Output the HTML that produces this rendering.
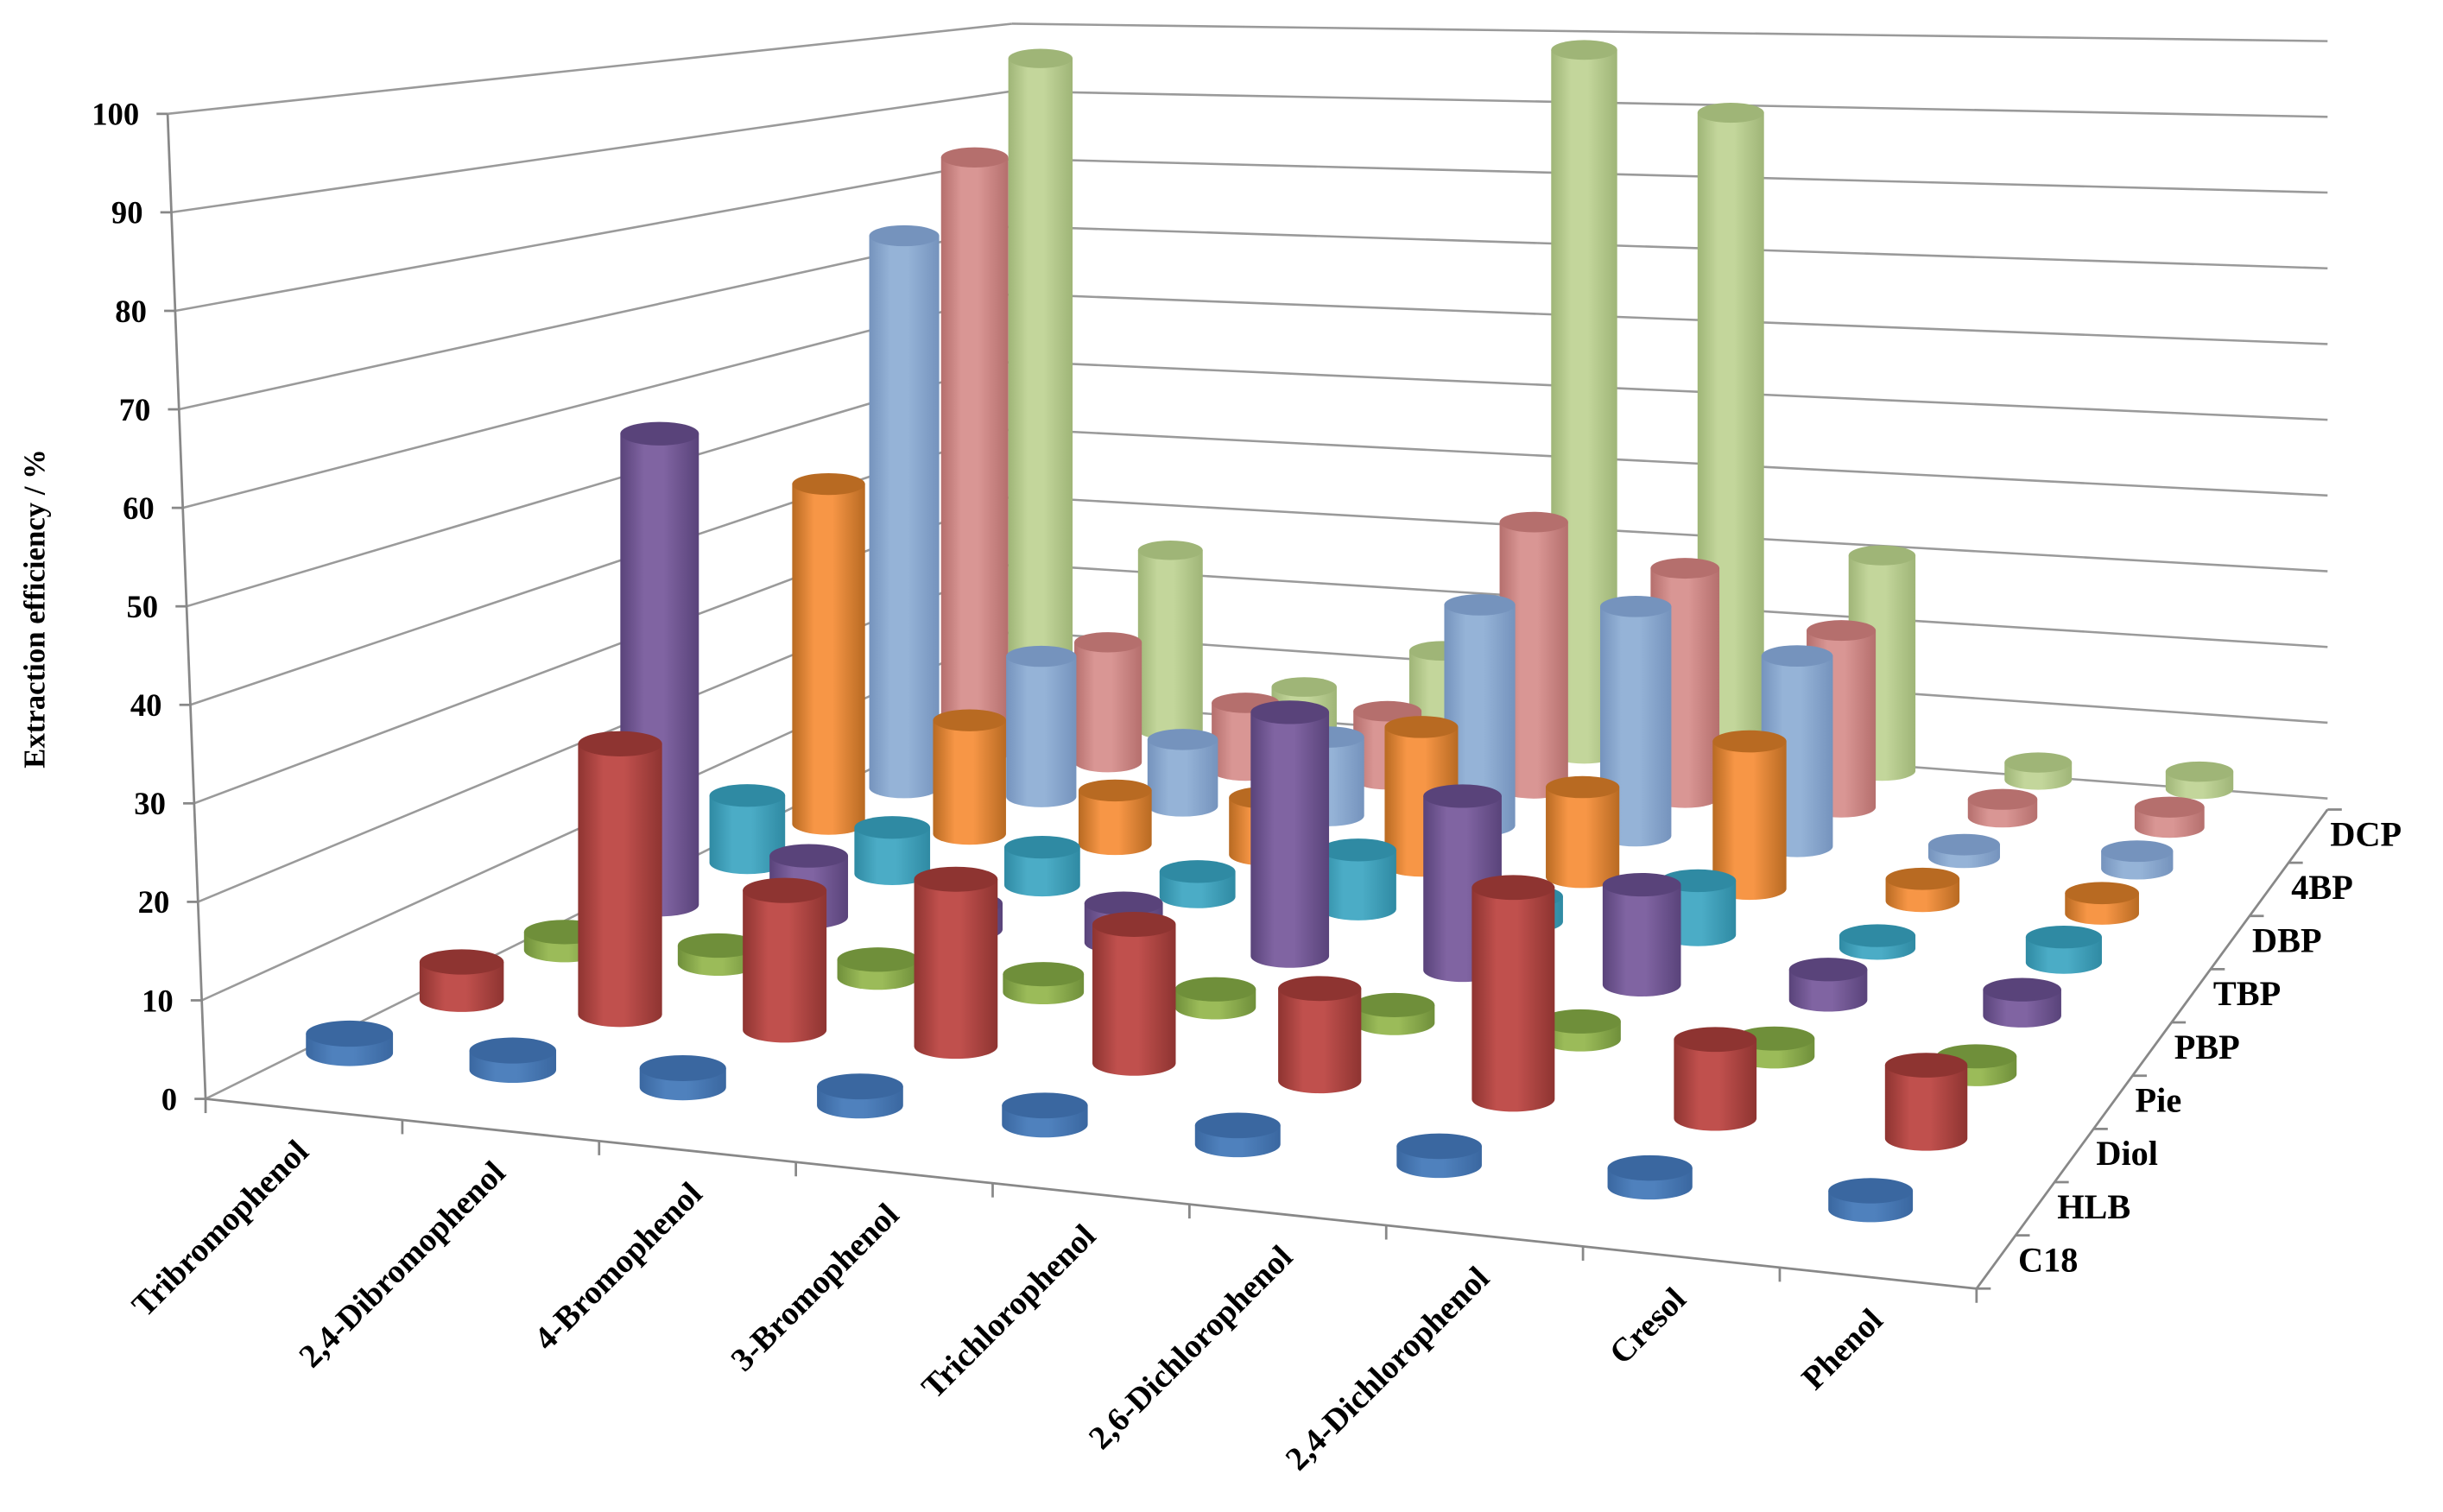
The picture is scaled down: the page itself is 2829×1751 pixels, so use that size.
<!DOCTYPE html>
<html><head><meta charset="utf-8"><style>
html,body{margin:0;padding:0;background:#fff;}
svg{display:block;}
text{font-family:"Liberation Serif",serif;font-weight:bold;fill:#000;}
</style></head><body>
<svg id="chart" xmlns="http://www.w3.org/2000/svg" width="2829" height="1751" viewBox="0 0 1545 956.3" preserveAspectRatio="none">
<defs id="defs"></defs>
<g id="walls"></g>
<g id="axes"></g>
<g id="bars"></g>
<g id="labels"></g>
<text transform="translate(28,385) rotate(-90)" text-anchor="middle" font-size="19">Extraction efficiency / %</text>
</svg>
<script>
const categories=["Tribromophenol","2,4-Dibromophenol","4-Bromophenol","3-Bromophenol","Trichlorophenol","2,6-Dichlorophenol","2,4-Dichlorophenol","Cresol","Phenol"];
const seriesNames=["C18","HLB","Diol","Pie","PBP","TBP","DBP","4BP","DCP"];
const c18Vals=[2,2,2,2,2,2,2,2,2];
const hlbVals=[4,29,15,18,15,10,23,8.6,8];
const diolVals=[2,2,2,2,2,2,2,2,2];
const pieVals=[54,7,3,4.5,28,20,11.5,3.5,3];
const pbpVals=[8,5.5,4.5,3,7,3,6.4,1.5,3];
const tbpVals=[42,14,6.6,7,17,11,18,2.7,2.5];
const dbpVals=[71,18,8.5,10,28,29,24,1.6,2.2];
const bp4Vals=[80,16,9,9,35,30,23,2.3,2.6];
const dcpVals=[93,25,7,13,96,88,29,2.3,2.3];
const yTicks=[0,10,20,30,40,50,60,70,80,90,100];
const allVals=[c18Vals,hlbVals,diolVals,pieVals,pbpVals,tbpVals,dbpVals,bp4Vals,dcpVals];
const colors=["#4f81bd","#c0504d","#9bbb59","#8064a2","#4bacc6","#f79646","#95b3d7","#d99694","#c3d69b"];
const tops=["#3a67a0","#8e3431","#6f8f3a","#59437a","#2f8aa3","#b86a22","#7593bd","#b56f6d","#9fb577"];

const NS="http://www.w3.org/2000/svg";
function mk(tag,attrs,parent){const e=document.createElementNS(NS,tag);for(const k in attrs)e.setAttribute(k,attrs[k]);parent.appendChild(e);return e;}

function solveH(src,dst){
  const A=[],B=[];
  for(let i=0;i<4;i++){const[u,v]=src[i],[x,y]=dst[i];
    A.push([u,v,1,0,0,0,-u*x,-v*x]);B.push(x);
    A.push([0,0,0,u,v,1,-u*y,-v*y]);B.push(y);}
  const n=8;
  for(let c=0;c<n;c++){let p=c;for(let r=c+1;r<n;r++)if(Math.abs(A[r][c])>Math.abs(A[p][c]))p=r;
    [A[c],A[p]]=[A[p],A[c]];[B[c],B[p]]=[B[p],B[c]];
    for(let r=0;r<n;r++){if(r===c)continue;const f=A[r][c]/A[c][c];for(let k=c;k<n;k++)A[r][k]-=f*A[c][k];B[r]-=f*B[c];}}
  return B.map((b,i)=>b/A[i][i]);
}
const Hm=solveH([[0.5,0.5],[8.5,0.5],[8.5,8.5],[0.5,8.5]],[[221,666],[1183,765],[1391,499],[658,457]]);
function proj(u,v){const w=Hm[6]*u+Hm[7]*v+1;return[(Hm[0]*u+Hm[1]*v+Hm[2])/w,(Hm[3]*u+Hm[4]*v+Hm[5])/w];}
function hScale(u,v){const a=u/9,b=v/9;return (1-a)*(1-b)*6.23+a*(1-b)*6.0+(1-a)*b*4.4+a*b*4.7;}

const defs=document.getElementById('defs');
colors.forEach((c,i)=>{
  const g=mk('linearGradient',{id:'g'+i,x1:0,y1:0,x2:1,y2:0},defs);
  mk('stop',{offset:0,'stop-color':tops[i]},g);
  mk('stop',{offset:0.3,'stop-color':c},g);
  mk('stop',{offset:0.55,'stop-color':c},g);
  mk('stop',{offset:1,'stop-color':tops[i]},g);
});

const walls=document.getElementById('walls');
const FL=[130,695],YT=[106,72];
function yAxisPt(v){return[FL[0]+(YT[0]-FL[0])*v/100,FL[1]+(YT[1]-FL[1])*v/100];}
function blY(v){return 442-(442-15)*v/100;}
function brY(v){return 505-(505-26)*v/100;}
yTicks.forEach(t=>{
  const p=yAxisPt(t);
  const l1=mk('line',{x1:p[0],y1:p[1],x2:640,y2:blY(t),stroke:"#9a9a9a","stroke-width":1.4},walls);
  
  
  const l2=mk('line',{x1:640,y1:blY(t),x2:1472,y2:brY(t),stroke:"#9a9a9a","stroke-width":1.4},walls);
  
  
});

const axes=document.getElementById('axes');
const labels=document.getElementById('labels');
const yl=mk('line',{x1:FL[0],y1:FL[1],x2:YT[0],y2:YT[1],stroke:"#888","stroke-width":1.5},axes);


yTicks.forEach(t=>{
  const p=yAxisPt(t);
  mk('line',{x1:p[0]-7,y1:p[1],x2:p[0],y2:p[1],stroke:"#888","stroke-width":1.5},axes);
  const tx=mk('text',{x:p[0]-18,y:p[1]+7,'text-anchor':'end','font-size':20},labels);
  tx.textContent=t;
  
  
});
const CR=[1250,815],BR=[1472,512];
const xl=mk('line',{x1:FL[0],y1:FL[1],x2:CR[0],y2:CR[1],stroke:"#888","stroke-width":1.5},axes);


const sl=mk('line',{x1:CR[0],y1:CR[1],x2:BR[0],y2:BR[1],stroke:"#888","stroke-width":1.5},axes);


function catPt(t){return[FL[0]+(CR[0]-FL[0])*t/categories.length,FL[1]+(CR[1]-FL[1])*t/categories.length];}
function serPt(t){return[CR[0]+(BR[0]-CR[0])*t/seriesNames.length,CR[1]+(BR[1]-CR[1])*t/seriesNames.length];}
for(let i=0;i<=categories.length;i++){const p=catPt(i);mk('line',{x1:p[0],y1:p[1],x2:p[0],y2:p[1]+9,stroke:"#888","stroke-width":1.5},axes);}
for(let j=0;j<=seriesNames.length;j++){const p=serPt(j);mk('line',{x1:p[0],y1:p[1],x2:p[0]+9,y2:p[1],stroke:"#888","stroke-width":1.5},axes);}
categories.forEach((c,i)=>{
  const p=catPt(i+0.5);
  const tx=mk('text',{transform:`translate(${p[0]+4},${p[1]+28}) rotate(-45)`,'text-anchor':'end','font-size':21},labels);
  tx.textContent=c;
  
  
});
seriesNames.forEach((s,j)=>{
  const p=serPt(j+0.5);
  const tx=mk('text',{x:p[0]+14,y:p[1]+6,'font-size':22},labels);
  tx.textContent=s;
  
  
});

const bars=document.getElementById('bars');
for(let j=seriesNames.length-1;j>=0;j--){
  for(let i=0;i<categories.length;i++){
    const u=i+0.5,v=j+0.5;
    const [cx,cy]=proj(u,v);
    const hs=hScale(u,v);
    const rx=hs*4.5,ry=rx*0.3;
    const H=allVals[j][i]*hs;
    const g=mk('g',{},bars);
    
    
    mk('path',{d:`M${cx-rx},${cy-H} L${cx-rx},${cy} A${rx},${ry} 0 0 0 ${cx+rx},${cy} L${cx+rx},${cy-H} Z`,fill:`url(#g${j})`},g);
    mk('ellipse',{cx:cx,cy:cy-H,rx:rx,ry:ry,fill:tops[j]},g);
  }
}
</script>
</body></html>
